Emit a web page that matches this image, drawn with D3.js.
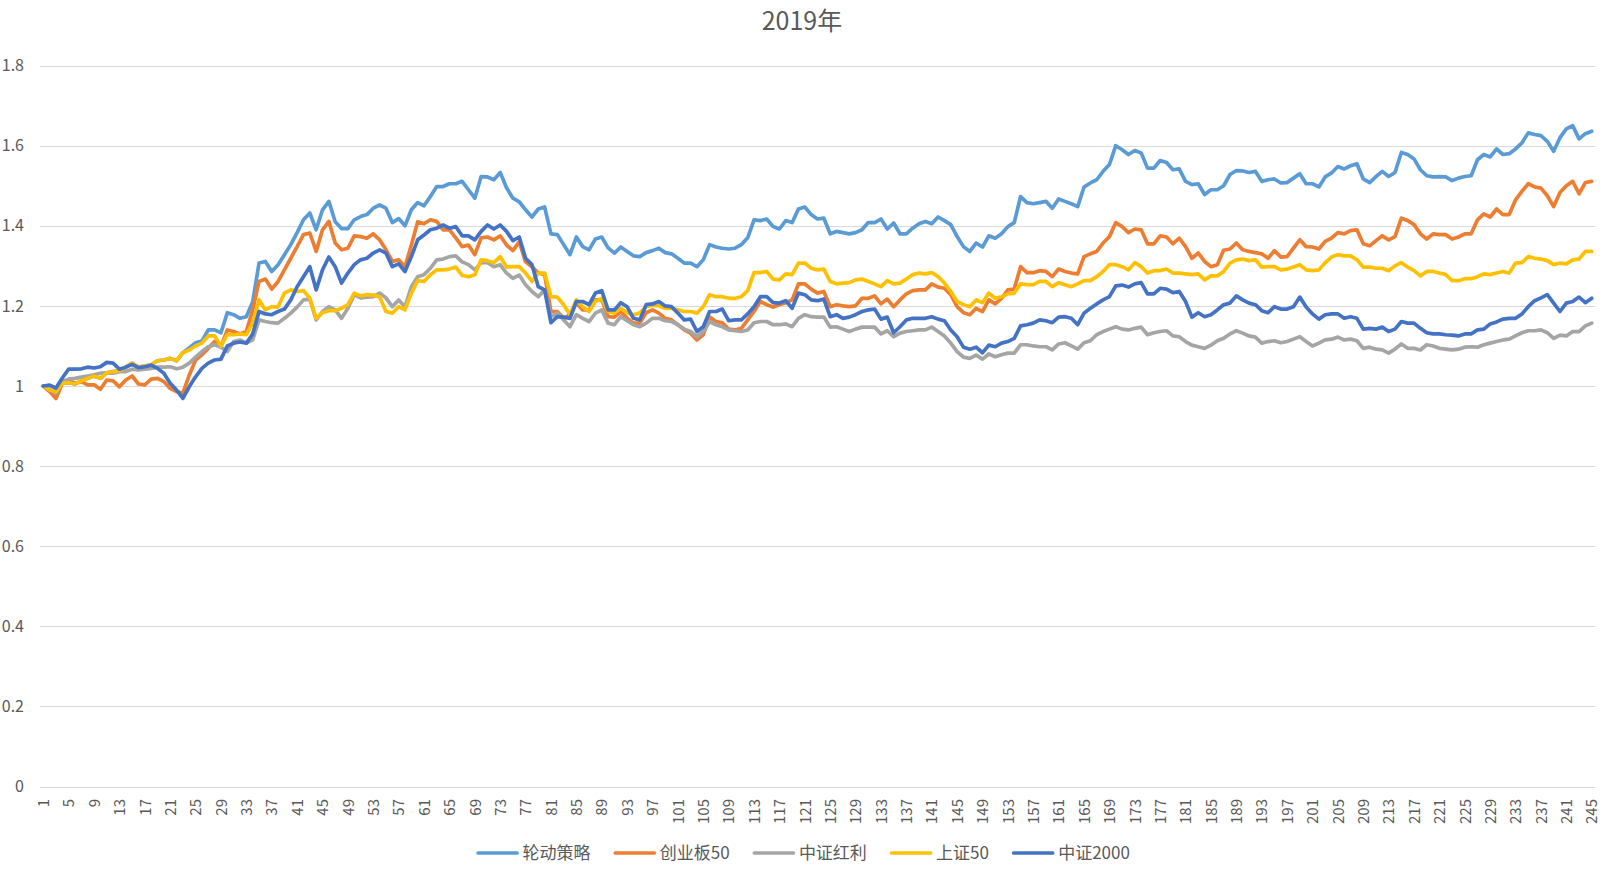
<!DOCTYPE html>
<html><head><meta charset="utf-8">
<script src="https://cdn.jsdelivr.net/npm/d3@7"></script>
<style>body{margin:0;background:#fff;} svg{display:block;}</style>
</head><body>
<svg id="chart" width="1608" height="876"></svg>
<script>
const title = "2019年";
const seriesNames = ["轮动策略", "创业板50", "中证红利", "上证50", "中证2000"];
const seriesColors = ["#5B9BD5", "#ED7D31", "#A5A5A5", "#FFC000", "#4472C4"];
const categories = d3.range(1, 246);
const yTicks = [0, 0.2, 0.4, 0.6, 0.8, 1, 1.2, 1.4, 1.6, 1.8];

const rotation = [
1.000,0.990,0.986,1.007,1.008,1.005,1.013,1.019,1.025,1.019,1.033,1.036,1.038,1.047,1.057,1.047,1.050,1.053,1.063,1.065,1.069,1.063,1.083,
1.095,1.108,1.112,1.140,1.140,1.133,1.183,1.178,1.169,
1.173,1.21,1.307,1.311,1.286,1.303,1.328,1.353,1.383,1.415,1.432,1.39,1.44,1.461,1.41,1.393,1.393,1.415,1.423,1.428,1.444,1.452,1.444,1.408,1.418,1.400,1.440,1.458,1.450,1.473,1.498,
1.498,1.505,1.505,1.511,1.490,1.469,1.523,1.522,1.515,1.533,1.495,1.469,1.460,1.440,1.422,1.442,1.447,1.380,1.378,1.353,1.328,1.372,1.348,1.340,1.367,1.372,1.345,1.332,1.347,1.336,1.325,1.323,
1.333,1.338,1.344,1.333,1.330,1.319,1.307,1.307,1.298,1.315,1.353,1.347,1.344,1.342,1.344,1.353,1.370,1.415,1.413,1.417,1.398,1.392,1.413,1.408,1.442,1.447,1.428,1.417,1.419,1.380,1.386,
1.383,1.380,1.383,1.390,1.408,1.408,1.417,1.392,1.407,1.380,1.380,1.394,1.405,1.411,1.405,1.422,1.413,1.403,1.373,1.348,1.336,1.357,1.347,1.375,1.369,1.380,1.398,1.408,1.473,1.458,1.455,1.458,
1.461,1.444,1.467,1.461,1.455,1.448,1.497,1.507,1.515,1.536,1.553,1.600,1.590,1.578,1.588,1.582,1.544,1.544,1.563,1.558,1.540,1.542,1.511,1.503,1.505,1.478,1.490,1.490,1.500,1.528,1.538,1.537,
1.533,1.536,1.511,1.515,1.517,1.507,1.508,1.519,1.530,1.505,1.505,1.497,1.522,1.532,1.548,1.542,1.550,1.555,1.517,1.508,1.523,1.536,1.523,1.533,1.583,1.578,1.567,1.540,1.525,1.522,1.523,
1.522,1.513,1.519,1.523,1.525,1.565,1.578,1.572,1.592,1.578,1.580,1.592,1.607,1.632,1.628,1.625,1.611,1.586,1.620,1.642,1.650,1.617,1.630,1.636
];

const chinext50 = [
1.000,0.986,0.969,1.007,1.013,1.007,1.011,1.003,1.003,0.992,1.015,1.013,0.998,1.015,1.025,1.005,1.003,1.017,1.019,1.011,0.994,0.986,0.982,1.027,1.065,1.078,1.094,1.111,1.098,1.140,1.136,1.130,
1.136,1.19,1.261,1.267,1.242,1.261,1.290,1.319,1.348,1.378,1.382,1.336,1.390,1.411,1.357,1.340,1.344,1.375,1.373,1.369,1.380,1.365,1.340,1.311,1.315,1.298,1.352,1.410,1.405,1.415,1.411,
1.390,1.390,1.370,1.348,1.352,1.328,1.370,1.372,1.365,1.375,1.352,1.338,1.360,1.310,1.298,1.282,1.278,1.186,1.186,1.169,1.178,1.207,1.190,1.190,1.215,1.215,1.173,1.172,1.186,1.169,1.157,1.157,
1.183,1.190,1.182,1.169,1.165,1.153,1.140,1.132,1.115,1.128,1.172,1.161,1.158,1.142,1.140,1.144,1.165,1.186,1.211,1.203,1.197,1.203,1.208,1.215,1.255,1.255,1.242,1.232,1.236,1.198,1.203,
1.200,1.198,1.200,1.219,1.219,1.225,1.205,1.217,1.198,1.215,1.230,1.238,1.240,1.240,1.255,1.247,1.244,1.228,1.198,1.183,1.178,1.194,1.186,1.215,1.205,1.219,1.240,1.242,1.298,1.283,1.283,1.288,
1.286,1.273,1.292,1.286,1.282,1.280,1.323,1.330,1.336,1.357,1.373,1.408,1.398,1.383,1.392,1.390,1.355,1.355,1.375,1.372,1.355,1.369,1.348,1.319,1.332,1.311,1.298,1.303,1.339,1.342,1.357,1.340,
1.336,1.333,1.330,1.319,1.338,1.322,1.323,1.344,1.365,1.348,1.347,1.342,1.361,1.369,1.383,1.380,1.388,1.390,1.355,1.350,1.363,1.375,1.365,1.373,1.419,1.413,1.403,1.380,1.367,1.380,1.378,
1.378,1.367,1.372,1.380,1.380,1.415,1.430,1.422,1.442,1.428,1.428,1.465,1.486,1.505,1.497,1.494,1.475,1.448,1.483,1.500,1.511,1.480,1.508,1.511
];

const dividend = [
1.000,0.990,0.982,1.011,1.017,1.019,1.022,1.025,1.028,1.032,1.033,1.032,1.036,1.036,1.042,1.040,1.042,1.044,1.047,1.047,1.048,1.043,1.047,1.057,1.072,1.086,1.098,1.103,1.097,1.086,1.111,1.115,
1.107,1.115,1.165,1.161,1.158,1.157,1.169,1.182,1.197,1.215,1.217,1.165,1.186,1.198,1.190,1.169,1.194,1.228,1.220,1.222,1.223,1.232,1.220,1.198,1.215,1.198,1.248,1.273,1.278,1.294,1.315,
1.317,1.323,1.325,1.310,1.303,1.290,1.308,1.308,1.298,1.303,1.282,1.269,1.277,1.253,1.236,1.223,1.240,1.173,1.182,1.165,1.148,1.178,1.169,1.161,1.182,1.190,1.157,1.153,1.173,1.163,1.153,1.148,
1.157,1.169,1.169,1.163,1.161,1.153,1.142,1.136,1.123,1.136,1.161,1.153,1.148,1.140,1.138,1.136,1.140,1.158,1.161,1.161,1.153,1.153,1.155,1.148,1.169,1.178,1.173,1.172,1.172,1.147,1.148,
1.142,1.136,1.142,1.147,1.147,1.147,1.130,1.138,1.123,1.132,1.136,1.138,1.140,1.140,1.147,1.136,1.125,1.107,1.086,1.072,1.069,1.077,1.067,1.080,1.073,1.078,1.082,1.082,1.103,1.103,1.100,1.098,
1.098,1.090,1.105,1.108,1.100,1.092,1.108,1.113,1.128,1.136,1.142,1.148,1.142,1.140,1.144,1.147,1.128,1.133,1.136,1.138,1.125,1.123,1.111,1.102,1.098,1.094,1.102,1.113,1.119,1.130,1.138,1.132,
1.125,1.122,1.107,1.111,1.113,1.108,1.111,1.117,1.123,1.111,1.100,1.107,1.115,1.117,1.122,1.115,1.117,1.113,1.094,1.097,1.092,1.090,1.082,1.092,1.105,1.094,1.094,1.090,1.103,1.100,1.094,
1.092,1.090,1.092,1.097,1.098,1.097,1.103,1.107,1.111,1.115,1.117,1.125,1.133,1.138,1.138,1.140,1.133,1.119,1.127,1.125,1.136,1.136,1.150,1.157
];

const sse50 = [
1.000,0.990,0.986,1.007,1.008,1.005,1.013,1.019,1.025,1.019,1.033,1.036,1.038,1.047,1.057,1.047,1.050,1.053,1.063,1.065,1.069,1.063,1.083,1.090,1.100,1.107,1.125,1.125,1.100,1.128,1.128,1.130,
1.128,1.157,1.215,1.190,1.198,1.197,1.232,1.240,1.236,1.238,1.219,1.169,1.183,1.188,1.188,1.194,1.203,1.232,1.225,1.228,1.227,1.223,1.186,1.182,1.198,1.190,1.232,1.263,1.261,1.278,1.290,
1.290,1.292,1.297,1.276,1.273,1.278,1.315,1.313,1.308,1.323,1.297,1.298,1.298,1.282,1.261,1.282,1.282,1.223,1.222,1.203,1.178,1.215,1.198,1.186,1.211,1.219,1.186,1.182,1.194,1.183,1.178,1.182,
1.198,1.202,1.200,1.194,1.194,1.190,1.186,1.186,1.182,1.198,1.228,1.223,1.223,1.219,1.219,1.223,1.238,1.283,1.283,1.286,1.267,1.265,1.280,1.278,1.307,1.307,1.294,1.290,1.292,1.261,1.255,
1.257,1.258,1.265,1.267,1.261,1.255,1.248,1.263,1.255,1.257,1.267,1.278,1.282,1.280,1.283,1.273,1.257,1.236,1.211,1.203,1.198,1.215,1.208,1.232,1.219,1.223,1.230,1.232,1.255,1.253,1.253,1.261,
1.261,1.248,1.258,1.253,1.248,1.255,1.263,1.263,1.273,1.286,1.303,1.303,1.298,1.290,1.308,1.298,1.282,1.288,1.288,1.292,1.282,1.282,1.280,1.278,1.280,1.265,1.275,1.275,1.286,1.307,1.315,1.317,
1.313,1.315,1.297,1.298,1.298,1.290,1.292,1.297,1.303,1.290,1.288,1.290,1.308,1.322,1.328,1.325,1.325,1.315,1.297,1.297,1.294,1.294,1.288,1.300,1.308,1.297,1.288,1.275,1.286,1.286,1.282,
1.278,1.263,1.263,1.268,1.268,1.273,1.280,1.278,1.282,1.286,1.282,1.307,1.308,1.323,1.319,1.317,1.313,1.303,1.307,1.305,1.315,1.317,1.336,1.336
];

const csi2000 = [
1.000,1.002,0.995,1.020,1.042,1.042,1.043,1.047,1.045,1.048,1.059,1.057,1.042,1.047,1.054,1.046,1.048,1.052,1.044,1.032,1.007,0.990,0.969,0.998,1.023,1.044,1.057,1.065,1.067,1.100,1.107,1.110,
1.107,1.13,1.186,1.180,1.178,1.186,1.192,1.215,1.248,1.273,1.298,1.240,1.290,1.322,1.298,1.257,1.282,1.303,1.315,1.319,1.332,1.340,1.332,1.298,1.305,1.286,1.323,1.365,1.377,1.390,1.394,
1.402,1.394,1.398,1.375,1.375,1.365,1.386,1.402,1.392,1.402,1.386,1.363,1.372,1.319,1.303,1.248,1.240,1.158,1.173,1.172,1.169,1.211,1.211,1.203,1.232,1.238,1.190,1.190,1.208,1.198,1.169,1.165,
1.203,1.205,1.211,1.200,1.198,1.182,1.165,1.167,1.136,1.148,1.186,1.186,1.192,1.163,1.165,1.165,1.180,1.198,1.223,1.223,1.208,1.207,1.213,1.194,1.232,1.228,1.215,1.213,1.217,1.173,1.178,
1.169,1.172,1.178,1.186,1.190,1.192,1.167,1.172,1.133,1.148,1.165,1.169,1.169,1.169,1.173,1.167,1.163,1.140,1.123,1.097,1.092,1.097,1.083,1.102,1.098,1.107,1.111,1.119,1.150,1.153,1.157,1.165,
1.163,1.158,1.172,1.173,1.169,1.153,1.182,1.194,1.205,1.215,1.223,1.250,1.252,1.247,1.255,1.258,1.230,1.230,1.244,1.242,1.233,1.236,1.211,1.172,1.183,1.173,1.178,1.190,1.203,1.207,1.225,1.215,
1.207,1.203,1.188,1.183,1.198,1.192,1.192,1.198,1.222,1.197,1.180,1.167,1.178,1.180,1.180,1.169,1.173,1.169,1.142,1.144,1.142,1.147,1.136,1.142,1.161,1.157,1.157,1.144,1.133,1.130,1.130,
1.128,1.127,1.125,1.130,1.130,1.140,1.142,1.155,1.160,1.167,1.169,1.169,1.180,1.198,1.213,1.220,1.228,1.207,1.186,1.207,1.211,1.222,1.208,1.219
];

const seriesValues = [rotation, chinext50, dividend, sse50, csi2000];

const svg = d3.select("#chart");
const FONT = "'Noto Sans CJK SC', 'Noto Sans', sans-serif";
const TEXT = "#595959";

const x = d3.scalePoint().domain(categories).range([40.1, 1594.9]).padding(0.5);
const y = d3.scaleLinear().domain([0, 1.8]).range([786.5, 65.6]);

// gridlines
svg.append("g").selectAll("line").data(yTicks).join("line")
  .attr("x1", 40).attr("x2", 1595)
  .attr("y1", d => Math.round(y(d)) + 0.5).attr("y2", d => Math.round(y(d)) + 0.5)
  .attr("stroke", "#D9D9D9").attr("stroke-width", 1);

// y axis
const yAxis = svg.append("g").attr("transform", "translate(24,0)")
  .call(d3.axisLeft(y).tickValues(yTicks).tickSize(0).tickPadding(0)
    .tickFormat(d => String(+d.toFixed(1))));
yAxis.select(".domain").remove();
yAxis.selectAll("text").attr("font-family", FONT).attr("font-size", 16).attr("fill", TEXT);

// x axis
const xAxis = svg.append("g").attr("transform", "translate(0,786.5)")
  .call(d3.axisBottom(x).tickValues(categories.filter((c, i) => i % 4 === 0)).tickSize(0));
xAxis.select(".domain").remove();
xAxis.selectAll("text")
  .attr("font-family", FONT).attr("font-size", 15).attr("fill", TEXT)
  .attr("text-anchor", "end")
  .attr("transform", "rotate(-90)")
  .attr("x", -12.5).attr("y", 0).attr("dy", "0.35em");

// lines
const line = d3.line().x((d, i) => x(categories[i])).y(d => y(d));
svg.append("g").selectAll("path").data(seriesValues).join("path")
  .attr("d", d => line(d))
  .attr("fill", "none")
  .attr("stroke", (d, i) => seriesColors[i])
  .attr("stroke-width", 3.7)
  .attr("stroke-linejoin", "round")
  .attr("stroke-linecap", "round");

// title
svg.append("text").attr("x", 802).attr("y", 30.3)
  .attr("text-anchor", "middle").attr("font-family", FONT)
  .attr("font-size", 25).attr("fill", TEXT).text(title);

// legend
const lg = svg.append("g");
const legendY = 853;
let cx = 0;
const items = seriesNames.map((name, i) => {
  const g = lg.append("g");
  g.append("line").attr("x1", 0).attr("x2", 39).attr("y1", 0).attr("y2", 0)
    .attr("stroke", seriesColors[i]).attr("stroke-width", 3.7).attr("stroke-linecap", "round");
  const t = g.append("text").attr("x", 44.5).attr("y", 0).attr("dy", "0.35em")
    .attr("font-family", FONT).attr("font-size", 17).attr("fill", TEXT).text(name);
  const w = 44.5 + t.node().getComputedTextLength();
  g.attr("transform", `translate(${cx},0)`);
  cx += w + 24.7;
  return w;
});
const totalW = cx - 24.7;
lg.attr("transform", `translate(${804 - totalW / 2},${legendY})`);
</script>
</body></html>
